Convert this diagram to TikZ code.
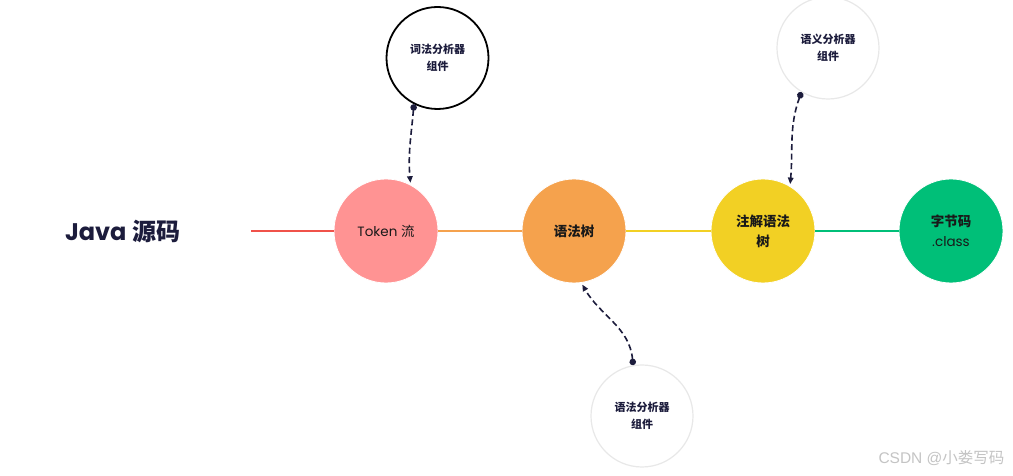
\documentclass[tikz,border=0pt]{standalone}
\usepackage{fontspec}
\setmainfont{Poppins}
\newfontfamily\cjk{Noto Sans CJK SC}
\newfontfamily\pop{Poppins}
\newfontfamily\lib{Liberation Sans}
\usetikzlibrary{arrows.meta}
\definecolor{navy}{HTML}{1C1C3C}
\definecolor{cred}{HTML}{F0524A}
\definecolor{cpink}{HTML}{FF9393}
\definecolor{corange}{HTML}{F5A24D}
\definecolor{cyellow}{HTML}{F2D024}
\definecolor{cgreen}{HTML}{00BF78}
\definecolor{wm}{HTML}{C4C4C4}
\tikzset{
  main/.style={circle, minimum size=104pt, inner sep=0pt, draw=white, line width=0.8pt, align=center, text=black!90, font=\fontsize{13.5pt}{20pt}\selectfont},
  comp/.style={circle, minimum size=102pt, inner sep=0pt, align=center, text=navy, font=\cjk\bfseries\fontsize{11pt}{17pt}\selectfont},
  link/.style={line width=2.2pt},
  dep/.style={navy, line width=1.6pt, dash pattern=on 6pt off 3.5pt, {Circle[length=6.5pt,width=6.5pt]}-{Triangle[length=6.5pt,width=5.5pt]}, shorten >=2pt}
}
\begin{document}
\begin{tikzpicture}[x=1pt,y=1pt]
\fill[white] (0,0) rectangle (1013,476);
\useasboundingbox (0,0) rectangle (1013,476);
% main nodes
\node[font=\fontsize{24pt}{28pt}\selectfont, text=navy] (java) at (123,245) {{\pop\bfseries Java} {\cjk\bfseries 源码}};
\coordinate (start) at (251,245);
\node[main, fill=cpink] (tok) at (386,245) {{\pop Token} {\cjk 流}};
\node[main, fill=corange] (tree) at (574,245) {\cjk\bfseries 语法树};
\node[main, fill=cyellow] (anno) at (763,245) {\cjk\bfseries 注解语法\\\cjk\bfseries 树};
\node[main, fill=cgreen] (byte) at (951,245) {\cjk\bfseries 字节码\\{\pop .class}};
% connecting line
\draw[link, cred] (start) -- (tok.west);
\draw[link, corange] (tok.east) -- (tree.west);
\draw[link, cyellow] (tree.east) -- (anno.west);
\draw[link, cgreen] (anno.east) -- (byte.west);
% components
\node[comp, draw=black, line width=1.8pt] (lex) at (437.5,418) {词法分析器\\组件};
\node[comp, draw=black!9, line width=1.2pt] (sem) at (828,428) {语义分析器\\组件};
\node[comp, draw=black!9, line width=1.2pt] (syn) at (642,60) {语法分析器\\组件};
% dependency arrows
\draw[dep] (lex.243) to[out=-95, in=95] (tok.62);
\draw[dep] (sem.239) to[out=-110, in=85] (anno.59);
\draw[dep] (syn.100) to[out=95, in=-60] (tree.-82);
% watermark
\node[text=wm, font=\fontsize{15.5pt}{18pt}\selectfont, anchor=east] (wmk) at (1008,18) {{\lib CSDN @}{\cjk 小娄写码}};
\end{tikzpicture}
\end{document}
